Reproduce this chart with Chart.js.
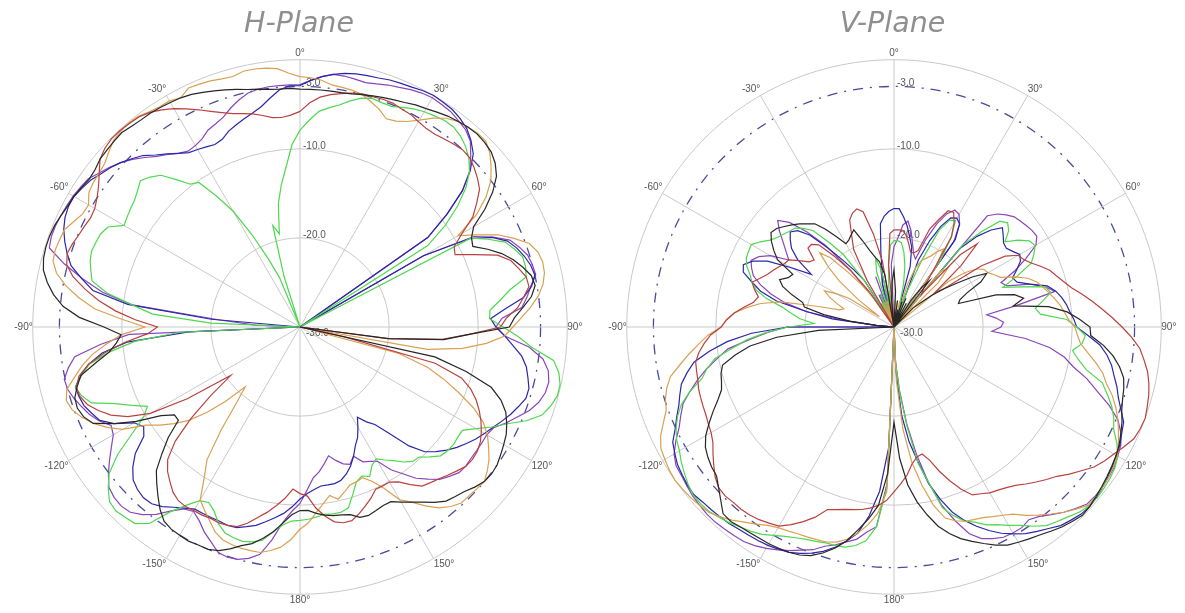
<!DOCTYPE html>
<html>
<head>
<meta charset="utf-8">
<script src="https://cdn.jsdelivr.net/npm/chart.js@4"></script>
<style>
  html, body { margin: 0; padding: 0; background: #fff; overflow: hidden; }
  .plot { position: absolute; top: 0; height: 613px; }
  #hBox { left: 0; width: 598px; }
  #vBox { left: 594px; width: 597px; }
</style>
</head>
<body>
<div class="plot" id="hBox"><canvas id="hPlane" width="598" height="613"></canvas></div>
<div class="plot" id="vBox"><canvas id="vPlane" width="597" height="613"></canvas></div>
<script>
// one value every 2.5 degrees, clockwise from 0 (dB)
const angleTicks = ['0°','30°','60°','90°','120°','150°','180°','-150°','-120°','-90°','-60°','-30°'];
const radialTicks = [-30, -20, -10, -3, 0];
const radialLabels = ['-30.0', '-20.0', '-10.0', '-3.0'];
const seriesColors = ['#262626', '#b8423f', '#d9a052', '#4fd84f', '#2a26a8', '#8a45bb'];

const hBlack = [
-3.3,-3.3,-3.3,-3.3,-3.3,-3.2,-3,-2.8,-2.6,-2.4,-2.2,-1.9,-1.7,-1.4,-1.1,-0.9,-0.7,-0.6,-0.7,-0.9,-1.4,-2.2,-3.6,-5.4,-7.5,-8.3,-8.6,-7.2,-5.9,-4.9,-4.1,-3.4,-3.2,-3.8,-4.9,-5.9,
-6.5,-11,-13.8,-20,-30,-14.5,-10.7,-7.5,-6,-5,-4.4,-3.9,-3.6,-3.3,-3,-2.9,-3,-3.4,-3.9,-4.2,-4.5,-5.2,-6,-6.7,-7.3,-7.9,-7.9,-7.7,-7.5,-7.6,-8.2,-8.4,-8.5,-8.7,-9,-9.4,
-9.4,-8.9,-7.9,-6.8,-5.9,-5.1,-4.6,-3.9,-3.3,-3,-3,-2.9,-3,-3.1,-3.4,-4.2,-5.2,-6.2,-7.2,-9,-10.7,-12.8,-12.8,-11.5,-8.8,-6.5,-4.4,-3.7,-3.4,-3.5,-4.1,-4.8,-6.7,-8.4,-9.3,-9.9,
-8,-5.2,-3.3,-2.1,-1.2,-0.5,-0.2,-0.1,-0.1,-0.2,-0.4,-0.6,-0.7,-0.9,-1.1,-1,-0.7,-0.6,-0.5,-0.4,-0.6,-0.7,-0.7,-0.8,-0.9,-1,-1.2,-1.5,-1.8,-2.1,-2.4,-2.7,-2.9,-3.1,-3.2,-3.2];
const hRed = [
-5.8,-4.8,-4.1,-3.7,-3.4,-3.1,-2.9,-2.9,-2.8,-2.8,-3,-3.1,-3.4,-3.6,-3.6,-3.4,-3.2,-3,-3.1,-3.5,-4,-4.6,-5.8,-7,-9,-10.5,-10.8,-8.8,-6.4,-5.2,-4.6,-4,-3.9,-4.7,-5.5,-6.8,
-7.5,-11,-14,-20,-30,-25,-14.3,-11,-9.6,-8.6,-7.8,-7.1,-6.5,-6,-5.7,-5.6,-5.7,-6.1,-6.5,-6.9,-7.2,-7.5,-8.4,-9.4,-9.9,-9.9,-9.9,-9.2,-8.6,-8,-7.5,-7.5,-7.8,-8.6,-9.6,-11,
-11.3,-11.8,-10.7,-9.8,-8.9,-8.1,-7.2,-6.5,-6.3,-6.2,-6.3,-6.2,-6.2,-6.1,-6.2,-6.6,-7.3,-8,-9,-11,-14,-17.4,-20.5,-15,-10.6,-8.2,-6.6,-5.5,-4.6,-4.1,-4,-4.6,-5.9,-7.9,-10.3,-12.9,
-14,-11.5,-9.2,-7.2,-5.5,-3.9,-2.9,-2.6,-2.8,-3.1,-3.3,-3.5,-3.4,-3,-2.4,-1.6,-0.7,-0.3,-0.1,-0.1,-0.2,-0.3,-0.6,-1.1,-1.7,-2.4,-3.1,-3.8,-4.4,-4.9,-5.2,-5.5,-5.9,-6.3,-6.4,-6.2];
const hOrange = [
-1.9,-2,-2.2,-2.6,-2.7,-2.8,-3,-3.5,-4,-4.7,-4.5,-4,-3.2,-2.2,-1.4,-0.9,-0.7,-0.5,-0.5,-1.1,-2,-3,-4.5,-6.5,-9.5,-7.6,-5.5,-4,-2.6,-2,-1.8,-1.9,-2.3,-3,-4,-5.1,
-6.1,-7,-9,-11.6,-15.5,-30,-18.5,-15,-12.8,-10.7,-8.5,-6.8,-5.7,-4.9,-4.1,-3.5,-3,-3.1,-3.2,-3.2,-3.7,-4.4,-5.5,-6.7,-7.6,-9.6,-10.9,-11.7,-11.5,-11.4,-10.8,-10.2,-10.8,-10,-9.1,-8,
-7.3,-6.1,-5.2,-4.7,-4.3,-4.3,-4.3,-4.4,-4.6,-5.1,-6,-6.8,-7.6,-10,-11.8,-15.5,-19,-20.9,-18.2,-15.8,-13.7,-12.2,-10.8,-9.5,-7,-5.6,-4.4,-3.5,-2.8,-2.5,-2.9,-4.1,-5.2,-6.5,-8.2,-9.9,
-12.6,-10,-6.9,-5,-3.3,-2,-1.3,-1.2,-1.3,-1.4,-2,-2.5,-2.6,-1.9,-1.7,-1.6,-1.4,-0.9,-0.4,-0.2,-0.1,-0.2,-0.5,-0.7,-0.7,-1,-0.4,-0.5,-0.6,-0.8,-0.9,-0.6,-0.6,-0.7,-0.9,-1.5];
const hGreen = [
-7.9,-6.8,-5.7,-5.2,-4.7,-4,-3.4,-3.1,-3.2,-3.2,-2.8,-2.4,-2.1,-1.9,-1.7,-1.7,-2,-2.5,-3.2,-4.2,-5.7,-7.7,-10.1,-13,-30,-8.4,-6.7,-5.1,-4.4,-3.8,-3.8,-4,-6.1,-7.4,-8.6,-8.7,
-7.2,-5.5,-3.9,-1.3,-0.5,-0.1,-0.1,-0.5,-1.1,-2.5,-4.3,-5.7,-7.2,-8.4,-8.4,-8.3,-8.4,-8.6,-9.4,-10.2,-10.3,-10.9,-11.7,-12.3,-12.9,-12.5,-11.5,-11.9,-11.5,-10.3,-9,-8.7,-8.7,-8.8,-8.6,-8.4,
-8.3,-8.2,-7.7,-6.8,-5.7,-5.3,-5.1,-5.2,-5.4,-6.1,-7.2,-7.8,-7.5,-6.3,-4.7,-2.2,-1.2,-1,-0.8,-1,-1.9,-3,-5,-7.6,-9.7,-10.7,-9.2,-7.5,-5.1,-4.3,-3.9,-4.9,-6,-8.4,-11.4,-16.5,
-30,-20,-13.4,-11,-8,-6.1,-5.7,-5.3,-5.1,-5.2,-5.3,-5.7,-7.2,-7,-6.8,-6.6,-6.2,-5.7,-6.2,-6.9,-8.4,-9.8,-10.2,-12.6,-15,-18.3,-21.5,-24,-30,-24,-18.2,-19.3,-16,-13.9,-12,-9.5];
const hBlue = [
-2.9,-2.3,-1.8,-1.4,-1.1,-0.9,-0.8,-0.7,-0.5,-0.4,-0.3,-0.1,0,-0.1,-0.2,-0.5,-0.9,-1.6,-2.5,-4.1,-6.2,-9.2,-12.5,-30,-14,-8.5,-6.2,-4.8,-4.1,-3.6,-3.2,-3,-3.6,-4.7,-6.9,-8.6,
-8,-7,-6,-4.9,-4.2,-3.8,-3.4,-3.4,-3.9,-4.4,-5,-5.6,-6.1,-6.6,-7.2,-7.8,-8.5,-9.3,-10.2,-11.9,-14.4,-16.2,-17,-18,-17,-16,-15.3,-14.3,-13.4,-12.7,-12.2,-12,-12,-12,-11.7,-11.3,
-10.7,-9.8,-9,-8.4,-7.8,-7.2,-6.8,-6.4,-6.3,-6.4,-6.4,-6.4,-6.4,-5.9,-5.3,-4.6,-4.1,-4,-4.2,-4.6,-5.5,-6.7,-8.6,-9.2,-8.5,-6.5,-5.2,-4.7,-4.2,-4,-3.9,-4.8,-5.9,-7.6,-10.5,-17.5,
-30,-30,-20,-10.5,-6.4,-4.9,-3.4,-2.6,-1.9,-1.3,-0.9,-0.7,-0.7,-1,-1.3,-1.8,-2.2,-2.7,-3.3,-3.9,-4.8,-5.5,-6.2,-6.8,-7,-7.2,-7.4,-7.2,-6.6,-6.2,-5.8,-5.4,-4.9,-4.1,-3.3,-2.9];
const hPurple = [
-2.8,-2.3,-1.8,-1.4,-1.4,-1.5,-1.6,-1.4,-1.1,-0.9,-0.6,-0.4,-0.3,-0.4,-0.5,-0.8,-1.1,-1.7,-2.9,-4.2,-6.2,-9.2,-12.5,-30,-14,-8,-6.1,-4.5,-3.8,-3.2,-3,-2.9,-3.7,-4.3,-5,-7.3,
-8,-7,-4.2,-2.5,-1.7,-1.4,-1.5,-1.9,-2.6,-3.6,-4.5,-5.5,-5.8,-5.8,-5.8,-5.8,-5.7,-5.8,-6.3,-6.8,-7.7,-8.6,-9.9,-11,-12.6,-13,-13.3,-14.3,-13.6,-13.9,-14.5,-15.2,-14.4,-13.6,-13,-11.7,
-10.2,-9.3,-8,-5.9,-4.1,-3.4,-3,-2.9,-3.1,-3.9,-4.6,-5.5,-6.1,-5.8,-4.8,-3.5,-2.5,-1.8,-1.6,-1.7,-2,-2.9,-3.9,-4.9,-5.8,-6.1,-5.1,-4.4,-3.9,-3.4,-3,-2.9,-3.6,-4.5,-7.5,-10.8,
-30,-25,-21,-11,-7.5,-5,-2.6,-0.5,-0.3,-0.3,-0.4,-0.5,-0.6,-0.8,-1,-1.6,-2.1,-2.7,-3.4,-4.2,-5,-5.6,-6.2,-6.6,-6.5,-6.2,-5.6,-5.3,-4.9,-4.2,-3.6,-3.1,-2.9,-2.8,-2.8,-2.8];

const vBlack = [
-23.6,-26,-30,-27,-30,-28,-30,-27,-30,-26.5,-30,-27,-30,-26.4,-24.5,-23.5,-30,-30,-27,-26,-24.5,-23,-21.5,-19.5,-18,-19,-21,-22,-22.3,-18,-16,-15.1,-16.4,-12.5,-10.5,-9.2,
-8,-7.9,-6.4,-5.2,-4.3,-3.6,-3.3,-3.1,-2.8,-2.3,-1.9,-1.5,-1.2,-1,-0.8,-0.6,-0.4,-0.2,-0.1,-0.4,-0.7,-1.1,-1.5,-1.8,-2.1,-2.4,-3,-3.7,-4.4,-5.1,-6,-7.1,-8.6,-10.2,-12.2,-15.2,
-19.3,-13.5,-9.9,-8.3,-6.9,-5.4,-4.3,-3.4,-2.7,-2.3,-2.1,-2,-1.9,-1.9,-1.8,-1.7,-1.5,-1.6,-2.5,-3.3,-4,-4.2,-4.5,-4.9,-5.6,-6.6,-7.6,-8.6,-9.4,-9.7,-9.9,-10.3,-11.9,-13.7,-16.8,-21.5,
-30,-30,-28,-25,-22,-19.7,-19.4,-18,-16.7,-16.1,-16.9,-17.2,-14.9,-14,-13.2,-12.6,-12.8,-13.3,-13.8,-14.3,-14.9,-15.4,-16.6,-18,-19.2,-19,-18.6,-18.2,-19.7,-21,-21.9,-22.5,-24,-30,-27,-25];
const vRed = [
-19.1,-19.1,-19.1,-19.6,-20.5,-21.4,-21.4,-21,-18.3,-17,-15.6,-15.5,-16.5,-18,-22.5,-24.6,-25.2,-19,-16.8,-19.8,-24,-23,-18,-15.2,-13.9,-13.6,-13,-12.2,-11.4,-10.9,-10.3,-9.6,-8.6,-7.6,-6.6,-5.5,
-4.4,-3.3,-2.3,-1.7,-1.1,-0.7,-0.4,-0.2,0,-0.1,-0.3,-0.9,-1.5,-2,-2.6,-3.5,-4.3,-5.2,-5.8,-6.4,-7,-7.6,-8,-8.3,-8.5,-8.9,-9.2,-10.3,-11.6,-13,-14.5,-15.4,-15.2,-14.5,-13.3,-12.4,
-11.5,-10.5,-9.9,-9.5,-9.2,-9,-8.8,-8.5,-8.2,-6.9,-5.9,-5,-4.2,-3.9,-3.6,-3.4,-3.3,-3.3,-3.2,-3.3,-3.8,-4.5,-5.2,-5.9,-6.3,-6.5,-6.7,-6.8,-6.9,-7,-7.2,-7.3,-7.4,-7.9,-8.6,-9.4,
-10.6,-11.2,-12,-13,-14,-14.4,-13.8,-13.3,-14,-14.6,-15,-15.4,-15.8,-16,-17,-18,-18.3,-16.9,-16.9,-17.5,-19.7,-22,-25,-30,-24,-20.2,-18.8,-17,-16.4,-16.1,-16.6,-19.3,-22.5,-30,-23,-19.5];
const vOrange = [
-30,-27,-30,-27,-30,-27,-30,-25,-23,-21.9,-21.5,-21,-20.2,-19.6,-22,-30,-22,-21,-23,-30,-22,-20,-18.6,-18,-17.8,-17.3,-16.8,-15.3,-14,-13.2,-12.7,-12.2,-11.7,-11.2,-10.8,-10.4,
-9.7,-9.4,-9,-8.1,-7,-6,-5.3,-4.3,-3.5,-2.8,-2.2,-1.6,-1.1,-0.8,-0.6,-0.5,-0.4,-0.4,-1.1,-1.8,-2.6,-3.4,-4.2,-5.1,-5.6,-6,-6.4,-6.6,-6.8,-7.2,-7.8,-9.5,-12,-14.7,-18.5,-24,
-30,-11.5,-9,-7.6,-6.5,-5.6,-5,-4.7,-4.6,-4.5,-4.4,-4.2,-4,-3.6,-3,-2.4,-1.7,-1.1,-0.6,-0.4,-0.2,-0.1,0,-0.1,-0.3,-0.5,-1.1,-2,-2.8,-3.1,-3.6,-4.3,-5.6,-6.8,-8,-9.1,
-10.6,-11.2,-12,-13.3,-14.8,-17,-21,-23.6,-24,-23,-22,-21.2,-22.5,-24,-28,-25,-22,-20,-18.2,-19.5,-22,-24,-26,-30,-27.5,-30,-27,-30,-27,-30,-27,-30,-27,-30,-27,-30];
const vGreen = [
-20.3,-20.3,-20.5,-21.5,-23,-25,-28,-30,-26,-22,-18,-16.5,-16.2,-18,-21,-30,-18,-15.5,-13.2,-12.7,-13.2,-14.3,-13,-12,-11.7,-12.3,-13,-15,-17,-15,-12.5,-12,-13,-14,-13.5,-10.6,
-9.5,-8.5,-8.8,-9.8,-9,-7.9,-5.8,-4.9,-4,-3.3,-2.8,-1.8,-1,-0.6,-0.4,-0.3,-0.2,-0.3,-0.6,-1.1,-1.5,-1.9,-2.7,-3.6,-4.3,-5,-5.5,-6.3,-6.8,-7.8,-9,-12.2,-14.5,-18.7,-22.5,-26,
-30,-12,-7.5,-5.8,-5.1,-4.7,-4.6,-4.6,-4.4,-4.2,-3.9,-3.5,-3,-2.4,-2,-1.7,-1.3,-1,-0.7,-0.6,-0.6,-0.9,-1.3,-1.7,-2.2,-2.5,-3,-3.7,-4.6,-6,-7.7,-8.5,-9.6,-11.7,-13.4,-15.6,
-18.1,-21,-19.4,-18.4,-17.3,-15.4,-14,-13.3,-12.8,-12.1,-11.7,-11.6,-11.5,-12.2,-13,-13.5,-13.8,-14.1,-14.3,-15,-15.9,-18,-20,-23.8,-30,-27,-30,-26,-30,-23.5,-22,-23.5,-30,-25.5,-23,-20.8];
const vBlue = [
-16.7,-16.7,-17.6,-18.6,-19.8,-20.8,-23,-30,-22,-19.5,-17.5,-16.2,-15.9,-16.3,-18,-30,-18.5,-16.2,-14.6,-13.5,-14,-14.5,-14.6,-14.2,-13.7,-14,-14.8,-15.6,-15.3,-14,-12.2,-11.4,-10.9,-10.5,-10.2,-9.8,
-9.5,-8.2,-6.8,-5.9,-5.2,-4.7,-4.1,-3.6,-2.9,-2.1,-1.8,-1.4,-1.2,-0.9,-0.7,-0.5,-0.3,-0.2,-0.3,-0.6,-0.9,-1.5,-2,-2.5,-3.2,-3.9,-4.8,-5.8,-6.9,-8.2,-10,-12,-14.7,-17,-20,-25,
-30,-16.5,-11.5,-8.6,-6.5,-5.4,-4.4,-3.6,-3,-2.5,-2.1,-1.9,-1.7,-1.6,-1.5,-1.4,-1.2,-1.1,-1,-0.9,-0.7,-0.8,-1,-1.2,-1.6,-2,-2.9,-3.6,-4.3,-4.8,-5.3,-6.2,-7.2,-9.1,-11.2,-14,
-18.1,-30,-28,-23,-20,-16.5,-14.5,-13.3,-12,-11.7,-12.5,-14,-16.7,-19,-16.8,-15.5,-14.8,-14.2,-14.7,-16,-18.4,-20.5,-22.2,-23.8,-30,-28,-30,-26,-30,-27,-25,-24,-21.5,-18.3,-17.5,-17];
const vPurple = [
-21,-20,-18.5,-18,-19,-20.4,-21.5,-22,-19.5,-17.5,-16,-15.2,-15.4,-16.3,-18.3,-30,-13.7,-12.8,-12.2,-11.7,-11.5,-11.3,-11.1,-11,-11.6,-13.3,-15,-17,-16.5,-14,-12.5,-11.5,-16,-19.5,-18.5,-17.7,
-18,-19,-15.2,-12.4,-10.6,-9.4,-7.6,-6.1,-4.3,-2.8,-1.9,-1.3,-1,-0.7,-0.6,-0.5,-0.5,-0.6,-1.2,-1.8,-2.5,-3.2,-3.6,-3.3,-3.3,-3.4,-3.8,-4.3,-5.3,-7.2,-9.3,-12.1,-15.5,-19,-22.8,-26,
-30,-12.5,-7.5,-6.8,-5.8,-5.3,-4.7,-4.2,-3.4,-2.9,-2.3,-1.8,-1.3,-0.9,-0.6,-0.5,-0.4,-0.3,-0.3,-0.4,-0.5,-0.7,-0.9,-1,-1.5,-2.4,-3.4,-4.1,-4.8,-6,-7.2,-8.5,-9.9,-11.2,-13.7,-15.8,
-18,-30,-28,-24,-20,-17.5,-15.7,-14.3,-13.2,-12.7,-12.3,-12.9,-14,-16,-15.2,-14.3,-13.2,-12.3,-13.4,-15.5,-18,-22,-26,-30,-27,-30,-26,-30,-24,-30,-25,-23,-30,-26,-30,-23];

const angleLabels = Array.from({ length: 144 }, (_, i) => (i % 12 === 0 ? angleTicks[i / 12] : ''));

// radial labels sit beside the 0 deg spoke, not centred on it
const radialLabelPlugin = {
  id: 'radialLabels',
  beforeDatasetsDraw(chart) {
    const scale = chart.scales.r;
    const ctx = chart.ctx;
    ctx.save();
    ctx.font = '10px "Liberation Sans"';
    ctx.fillStyle = '#555';
    ctx.textAlign = 'left';
    ctx.textBaseline = 'middle';
    radialLabels.forEach((text) => {
      const r = scale.getDistanceFromCenterForValue(parseFloat(text));
      if (r === 0) ctx.fillText(text, scale.xCenter + 6, scale.yCenter + 6);
      else ctx.fillText(text, scale.xCenter + 3, scale.yCenter - r - 3);
    });
    ctx.restore();
  }
};

function drawPlane(id, title, series) {
  new Chart(document.getElementById(id), {
    type: 'radar',
    data: {
      labels: angleLabels,
      datasets: series.map((values, i) => ({
        data: values,
        borderColor: seriesColors[i],
        borderWidth: 1.2,
        pointRadius: 0,
        fill: false,
        tension: 0
      }))
    },
    options: {
      responsive: false,
      animation: false,
      layout: { padding: { top: 0, bottom: 5.5, left: 5.5, right: 5.5 } },
      plugins: {
        legend: { display: false },
        tooltip: { enabled: false },
        title: {
          display: true,
          text: title,
          color: '#8f8f8f',
          font: { family: '"DejaVu Sans"', size: 28.5, style: 'italic', weight: 'normal' },
          padding: { top: 7, bottom: 6.5 }
        }
      },
      scales: {
        r: {
          min: -30,
          max: 0,
          afterBuildTicks(scale) { scale.ticks = radialTicks.map((value) => ({ value })); },
          ticks: { display: false },
          grid: {
            circular: true,
            lineWidth: (c) => (c.tick && c.tick.value === -3 ? 1.3 : 1),
            color: (c) => (c.tick && c.tick.value === -3 ? '#4a4a9c' : '#c9c9c9')
          },
          border: { dash: (c) => (c.tick && c.tick.value === -3 ? [10, 7, 2, 7] : []) },
          angleLines: {
            lineWidth: 1,
            color: (c) => (c.index % 12 === 0 ? '#c9c9c9' : 'transparent')
          },
          pointLabels: {
            color: '#555',
            font: { family: '"Liberation Sans"', size: 10 },
            padding: 0
          }
        }
      }
    },
    plugins: [radialLabelPlugin]
  });
}

drawPlane('hPlane', 'H-Plane', [hBlack, hRed, hOrange, hGreen, hBlue, hPurple]);
drawPlane('vPlane', 'V-Plane', [vBlack, vRed, vOrange, vGreen, vBlue, vPurple]);
</script>
</body>
</html>
